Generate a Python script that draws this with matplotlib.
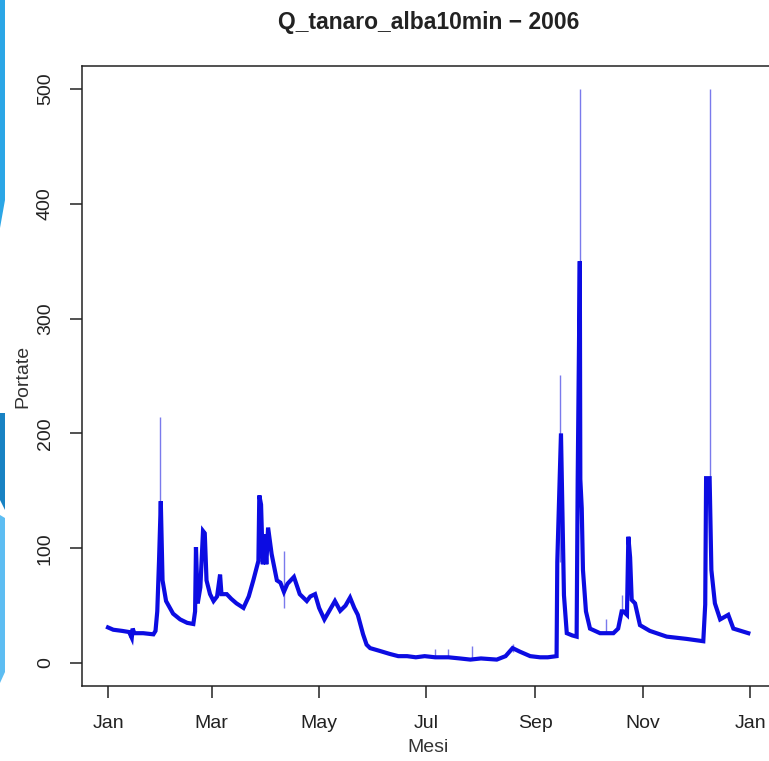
import matplotlib
matplotlib.use("Agg")
import matplotlib.pyplot as plt
from matplotlib.patches import Polygon

# giorni dall'1 gennaio 2006 e portata (m3/s)
giorni = [0, 3, 8, 12, 13.5, 14, 15, 20, 25.8, 27, 28, 29, 30, 31, 33, 37, 41, 45, 48.5,
          49.5, 50, 51, 52.5, 54, 55, 56, 58, 60, 62, 63.7, 64.5, 67.5, 70, 73, 77, 80,
          82.6, 85.5, 86, 87, 88, 89, 90, 91, 93, 96, 98, 100, 102, 105.7, 109, 113, 115,
          117.7, 120, 123, 126, 129, 132, 135, 137.6, 140, 142, 145, 147, 149, 154.6, 160,
          165, 170, 175, 180, 186, 190, 193.5, 200, 206, 212, 221, 226, 230, 234, 240,
          245.6, 250, 255, 255.4, 257.5, 259.2, 260.8, 264, 266.4, 267, 268.2, 268.5,
          269.3, 270, 271.7, 274, 279.7, 283, 287.3, 290, 292, 293, 295, 295.8, 296.8,
          297.7, 299.6, 302.4, 308, 317.6, 329, 338.4, 339.5, 340, 342, 343, 345, 348,
          352.6, 355.5, 364]
portate = [31, 29, 28, 27, 22, 30, 26, 26, 25, 28, 45, 89, 141, 72, 54, 43, 38, 35, 34,
           45, 101, 52, 66, 115, 113, 72, 60, 54, 58, 77, 60, 60, 56, 52, 48, 58,
           72, 89, 146, 138, 86, 112, 86, 118, 95, 72, 70, 62, 69, 75, 60, 54, 58,
           60, 48, 38, 46, 54, 45.5, 50, 57, 48, 42, 25, 16, 13, 10.5, 8,
           6, 6, 5, 6, 5, 5, 5, 4, 3, 4, 3, 6, 13, 10, 6,
           5, 5, 6, 88, 200, 59, 26, 24, 23, 159, 350, 160,
           135, 81, 45, 30, 26, 26, 26, 30, 45, 45, 42, 110, 92,
           55, 52, 33, 28, 23, 21, 19, 51, 161, 161, 81, 52, 38,
           42, 30, 26]

# picchi sottili (singole misure a 10 minuti)
picchi_giorni = [29.5, 100, 186, 193.5, 207, 230, 257, 268.2, 283, 292, 342]
picchi_min = [141, 48, 5, 5, 3, 10, 88, 350, 26, 45, 161]
picchi_max = [214, 98, 12, 12, 15, 17, 251, 500, 38, 59, 500]

mesi_pos = [0, 59, 120, 181, 243, 304, 365]
mesi_lab = ["Jan", "Mar", "May", "Jul", "Sep", "Nov", "Jan"]
y_ticks = [0, 100, 200, 300, 400, 500]

plt.rcParams['font.family'] = ['Liberation Sans', 'DejaVu Sans']

W, H = 769, 761
fig = plt.figure(figsize=(W / 100, H / 100), dpi=100)

# bordo decorativo a sinistra (sfondo dello screenshot)
def px(pts):
    return [(x / W, 1 - y / H) for x, y in pts]

for pts, col in [([(0, 0), (5, 0), (5, 200), (0, 228)], '#2ba6e6'),
                 ([(0, 413), (5, 413), (5, 510), (0, 500)], '#1882c3'),
                 ([(0, 515), (5, 518), (5, 672), (0, 683)], '#5dbdf2')]:
    fig.patches.append(Polygon(px(pts), closed=True, transform=fig.transFigure,
                               facecolor=col, edgecolor='none'))

ax = fig.add_axes([82.4 / W, 1 - 686 / H, (774 - 82.4) / W, (686 - 66) / H])

ax.vlines(picchi_giorni, picchi_min, picchi_max, color='#7a7aec', linewidth=1.0)
ax.plot(giorni, portate, color='#0c0ce2', linewidth=3.0, solid_joinstyle='miter')

ax.set_xlim(-14.56, 378.6)
ax.set_ylim(-20, 520)
ax.set_xticks(mesi_pos)
ax.set_xticklabels(mesi_lab)
ax.set_yticks(y_ticks)
ax.set_yticklabels([str(v) for v in y_ticks], rotation=90, va='center')

for s in ax.spines.values():
    s.set_linewidth(1.1)
    s.set_color('#222222')
ax.tick_params(axis='both', length=8.6, width=1.1, color='#222222',
               labelsize=14, labelcolor='#222222')
ax.tick_params(axis='x', pad=12)
ax.tick_params(axis='y', pad=12)

ax.set_xlabel("Mesi", fontsize=14, color='#333333')
ax.set_ylabel("Portate", fontsize=14, color='#333333')
ax.xaxis.set_label_coords(0.5, -0.0855)
ax.yaxis.set_label_coords(-0.0743, 0.5)
ax.set_title("Q_tanaro_alba10min \u2212 2006", fontsize=16.5, fontweight='bold',
             color='#222222', pad=27)

fig.savefig("out.png", dpi=100)
